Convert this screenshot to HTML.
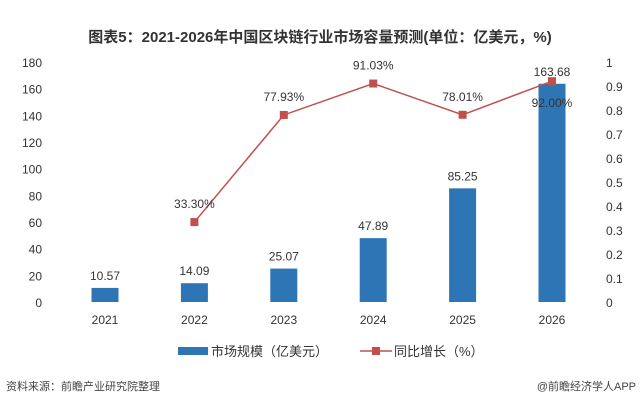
<!DOCTYPE html>
<html><head><meta charset="utf-8"><style>
body{margin:0;background:#fff;}
svg{display:block;font-family:"Liberation Sans","Noto Sans CJK SC",sans-serif;}
</style></head><body>
<svg id="c" width="640" height="402" xmlns="http://www.w3.org/2000/svg">
<rect width="640" height="402" fill="#fff"/>
<text x="320" y="42" text-anchor="middle" font-size="15" font-weight="bold" fill="#333">图表5：2021-2026年中国区块链行业市场容量预测(单位：亿美元，%)</text>
<g id="plot"></g>
<g>
<rect x="178" y="347" width="30" height="8" fill="#2e75b6"/>
<text x="211" y="356" font-size="13" fill="#333">市场规模（亿美元）</text>
<line x1="360" y1="351" x2="392" y2="351" stroke="#c0504d" stroke-width="1.5"/>
<rect x="372" y="347" width="8" height="8" fill="#c0504d"/>
<text x="394" y="356" font-size="13" fill="#333">同比增长（%）</text>
</g>
<text x="6" y="390" font-size="11" fill="#444">资料来源：前瞻产业研究院整理</text>
<text x="636" y="390" text-anchor="end" font-size="11" fill="#444">@前瞻经济学人APP</text>
</svg>
<script>
const categories=["2021","2022","2023","2024","2025","2026"];
const marketSize=[10.57,14.09,25.07,47.89,85.25,163.68];
const growth=[null,0.333,0.7793,0.9103,0.7801,0.92];
const growthLabels=[null,"33.30%","77.93%","91.03%","78.01%","92.00%"];
const leftTicks=[0,20,40,60,80,100,120,140,160,180];
const rightTicks=[0,0.1,0.2,0.3,0.4,0.5,0.6,0.7,0.8,0.9,1];
const NS="http://www.w3.org/2000/svg";
const g=document.getElementById('plot');
const y0=302,yTop=62;
const yL=v=>y0-(v/180)*(y0-yTop);
const yR=v=>y0-(v/1)*(y0-yTop);
const xC=i=>105+i*89.4;
function mk(t,a,txt){const e=document.createElementNS(NS,t);for(const k in a)e.setAttribute(k,a[k]);if(txt!=null)e.textContent=txt;g.appendChild(e);return e;}
leftTicks.forEach(v=>{const e=mk('text',{x:42,y:yL(v)+5,'text-anchor':'end','font-size':12,fill:'#333'},v);

});
rightTicks.forEach(v=>{const e=mk('text',{x:606,y:yR(v)+5,'font-size':12,fill:'#333'},String(Math.round(v*10)/10));

});
categories.forEach((c,i)=>{const e=mk('text',{x:xC(i),y:324,'text-anchor':'middle','font-size':12,fill:'#333'},c);

});
marketSize.forEach((v,i)=>{const b=mk('rect',{x:xC(i)-13.5,y:yL(v),width:27,height:y0-yL(v),fill:'#2e75b6'});


const t=mk('text',{x:xC(i),y:yL(v)-8,'text-anchor':'middle','font-size':12,fill:'#333'},v.toFixed(2));

});
let d='';growth.forEach((v,i)=>{if(v==null)return;d+=(d?'L':'M')+xC(i)+' '+yR(v);});
const ln=mk('path',{d:d,fill:'none',stroke:'#c0504d','stroke-width':1.5});


growth.forEach((v,i)=>{if(v==null)return;const m=mk('rect',{x:xC(i)-4,y:yR(v)-4,width:8,height:8,fill:'#c0504d'});


const last=i===growth.length-1;
const t=mk('text',{x:xC(i),y:last?yR(v)+26:yR(v)-14,'text-anchor':'middle','font-size':12,fill:'#333'},growthLabels[i]);

});
</script>
</body></html>
